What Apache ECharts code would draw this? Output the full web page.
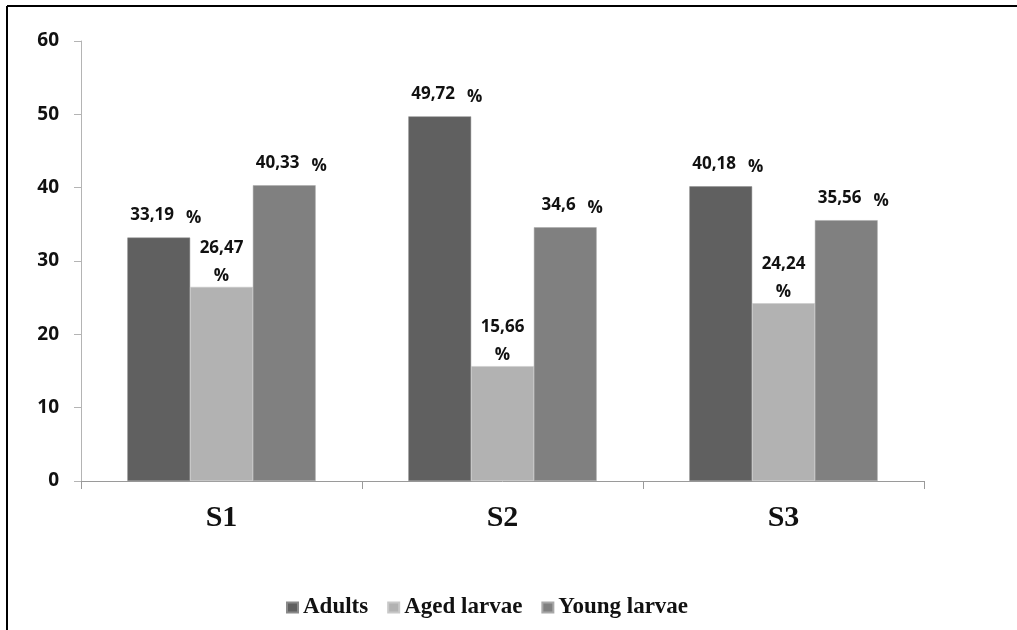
<!DOCTYPE html>
<html>
<head>
<meta charset="utf-8">
<script src="https://cdn.jsdelivr.net/npm/echarts@6/dist/echarts.min.js"></script>
<style>
html,body{margin:0;padding:0;background:#fff;}
#chart{width:1017px;height:630px;}
</style>
</head>
<body>
<div id="chart"></div>
<script>
var categories = ['S1', 'S2', 'S3'];
var seriesNames = ['Adults', 'Aged larvae', 'Young larvae'];
var adults = [33.19, 49.72, 40.18];
var agedLarvae = [26.47, 15.66, 24.24];
var youngLarvae = [40.33, 34.6, 35.56];
var yTicks = [0, 10, 20, 30, 40, 50, 60];

var colors = ['#606060', '#b2b2b2', '#808080'];
function fmt(v){ return String(v).replace('.', ','); }

var labelFont = 'Open Sans';
function singleLabel(){
  return {
    show: true, position: 'top', distance: 11, offset: [7, 0],
    formatter: function(p){ return '{v|' + fmt(p.value) + '}{p|%}'; },
    rich: {
      v: {fontFamily: labelFont, fontWeight: 'bold', fontSize: 17, color: '#111'},
      p: {fontFamily: labelFont, fontWeight: 'bold', fontSize: 17, color: '#111', padding: [6, 0, 0, 12]}
    }
  };
}
function doubleLabel(){
  return {
    show: true, position: 'top', distance: -3,
    fontFamily: labelFont, fontWeight: 'bold', fontSize: 17, color: '#111',
    lineHeight: 28,
    formatter: function(p){ return fmt(p.value) + '\n%'; }
  };
}

var chart = echarts.init(document.getElementById('chart'));
chart.setOption({
  animation: false,
  backgroundColor: '#fff',
  grid: {left: 81, right: 93, top: 41, bottom: 149},
  legend: {
    left: 281, top: 591,
    itemWidth: 11, itemHeight: 10, itemGap: 19,
    icon: 'rect',
    textStyle: {fontFamily: 'Liberation Serif', fontWeight: 'bold', fontSize: 23, color: '#111'},
    data: seriesNames
  },
  xAxis: {
    type: 'category', data: categories,
    axisLine: {lineStyle: {color: '#9a9a9a', width: 1}},
    axisTick: {show: true, length: 8, lineStyle: {color: '#9a9a9a'}},
    axisLabel: {fontFamily: 'Liberation Serif', fontWeight: 'bold', fontSize: 30, color: '#111', margin: 22}
  },
  yAxis: {
    type: 'value', min: yTicks[0], max: yTicks[yTicks.length - 1], interval: yTicks[1] - yTicks[0],
    splitLine: {show: false},
    axisLine: {show: true, lineStyle: {color: '#b4b4b4', width: 1}},
    axisTick: {show: true, length: 7, lineStyle: {color: '#b4b4b4'}},
    axisLabel: {fontFamily: labelFont, fontWeight: 'bold', fontSize: 19, color: '#111', margin: 22}
  },
  series: [
    {name: seriesNames[0], type: 'bar', data: adults, barGap: '0%', barCategoryGap: '33%',
     itemStyle: {color: colors[0], borderColor: '#8a8a8a', borderWidth: 0.5}, label: singleLabel()},
    {name: seriesNames[1], type: 'bar', data: agedLarvae, barGap: '0%', barCategoryGap: '33%',
     itemStyle: {color: colors[1], borderColor: '#c8c8c8', borderWidth: 0.5}, label: doubleLabel()},
    {name: seriesNames[2], type: 'bar', data: youngLarvae, barGap: '0%', barCategoryGap: '33%',
     itemStyle: {color: colors[2], borderColor: '#a8a8a8', borderWidth: 0.5}, label: singleLabel()}
  ],
  graphic: [
    {type: 'line', shape: {x1: 7, y1: 6, x2: 1017, y2: 6}, style: {stroke: '#000', lineWidth: 2}},
    {type: 'line', shape: {x1: 7, y1: 6, x2: 7, y2: 630}, style: {stroke: '#000', lineWidth: 2}}
  ]
});
</script>
</body>
</html>
